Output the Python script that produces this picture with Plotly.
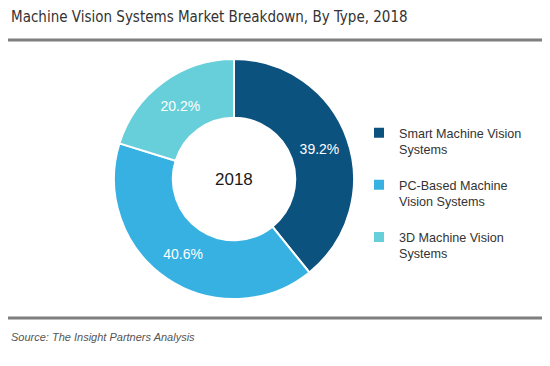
import plotly.graph_objects as go

labels = ["Smart Machine Vision<br>Systems<br> ", "PC-Based Machine<br>Vision Systems<br> ", "3D Machine Vision<br>Systems<br> "]
values = [39.2, 40.6, 20.2]
colors = ["#0B527F", "#36B1E2", "#66CFDA"]
year_label = "2018"
title = "Machine Vision Systems Market Breakdown, By Type, 2018"
source = "Source: The Insight Partners Analysis"

W, H = 550, 366
OFF = 8  # page body margin


def fx(x):
    return (x - OFF) / W


def fy(y):
    return 1 - (y - OFF) / H


cx, cy, rad = 234, 179, 120

fig = go.Figure(go.Pie(
    labels=labels,
    values=values,
    sort=False,
    direction="clockwise",
    rotation=0,
    hole=0.51,
    marker=dict(colors=colors, line=dict(color="white", width=2)),
    texttemplate="%{value:.1f}%",
    textposition="inside",
    insidetextorientation="horizontal",
    textfont=dict(color="white", size=14, family="Liberation Sans, Arial"),
    domain=dict(x=[fx(cx - rad), fx(cx + rad)], y=[fy(cy + rad), fy(cy - rad)]),
    hoverinfo="label+percent",
))

fig.update_layout(
    width=W, height=H,
    margin=dict(l=0, r=0, t=0, b=0),
    paper_bgcolor="white",
    plot_bgcolor="white",
    showlegend=True,
    legend=dict(
        x=fx(359), y=fy(118), xanchor="left", yanchor="top",
        font=dict(size=12.6, color="#333333", family="Liberation Sans, Arial"),
        valign="top",
        itemwidth=30,
        tracegroupgap=0,
        bgcolor="rgba(0,0,0,0)",
    ),
    annotations=[
        dict(text=title, x=fx(9), y=fy(17), xref="paper", yref="paper",
             xanchor="left", yanchor="middle", showarrow=False,
             font=dict(size=15, color="#333333", family="DejaVu Sans Condensed")),
        dict(text=year_label, x=fx(cx), y=fy(cy), xref="paper", yref="paper",
             xanchor="center", yanchor="middle", showarrow=False,
             font=dict(size=17, color="#1a1a1a", family="Liberation Sans, Arial")),
        dict(text="<i>" + source + "</i>", x=fx(9), y=fy(337), xref="paper", yref="paper",
             xanchor="left", yanchor="middle", showarrow=False,
             font=dict(size=11, color="#555555", family="Liberation Sans, Arial")),
    ],
    shapes=[
        dict(type="line", xref="paper", yref="paper", x0=fx(7), x1=fx(560), y0=fy(40), y1=fy(40),
             line=dict(color="#7F7F7F", width=3)),
        dict(type="line", xref="paper", yref="paper", x0=fx(7), x1=fx(560), y0=fy(318), y1=fy(318),
             line=dict(color="#7F7F7F", width=3)),
    ],
)

fig.write_html("out.html")
